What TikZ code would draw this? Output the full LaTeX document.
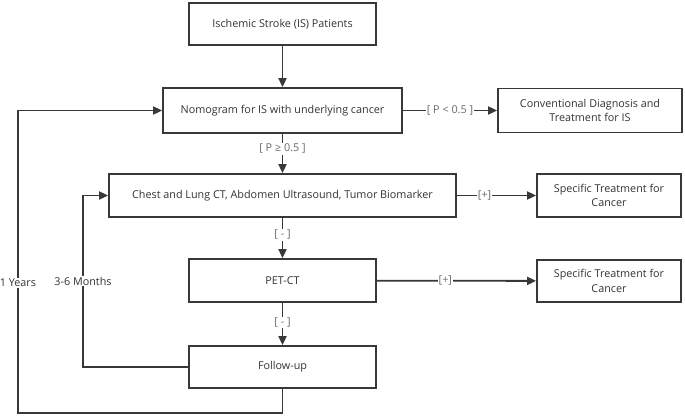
\documentclass[tikz,border=0pt]{standalone}
\usepackage{fontspec}
\setmainfont{Open Sans}
\usetikzlibrary{arrows.meta}
\definecolor{ln}{HTML}{383838}
\definecolor{tx}{HTML}{333333}
\definecolor{lb}{HTML}{6A6A6A}
\begin{document}
\begin{tikzpicture}[x=1pt,y=-1pt,
  box/.style={draw=ln,line width=1.8pt,text=tx,font=\fontsize{10.8}{14.5}\selectfont,align=center,inner sep=2pt},
  conn/.style={draw=ln,line width=1.8pt,-{Triangle[length=9pt,width=8pt]}},
  lbl/.style={fill=white,text=lb,font=\fontsize{10.8}{13}\selectfont,inner sep=1pt},
  side/.style={fill=white,text=tx,font=\fontsize{10.8}{13}\selectfont,inner sep=1pt}]
\useasboundingbox[fill=white] (0,0) rectangle (685,416);
\node[box,minimum width=187pt,minimum height=42pt] (ispat) at (282.5,24) {Ischemic Stroke (IS) Patients};
\node[box,minimum width=239pt,minimum height=45pt] (nomo) at (282.5,110.5) {Nomogram for IS with underlying cancer};
\node[box,minimum width=184pt,minimum height=44pt] (conv) at (590,110.5) {Conventional Diagnosis and\\Treatment for IS};
\node[box,minimum width=347pt,minimum height=43pt] (chest) at (282.5,195.5) {Chest and Lung CT, Abdomen Ultrasound, Tumor Biomarker};
\node[box,minimum width=144pt,minimum height=43pt] (spec1) at (609,195.5) {Specific Treatment for\\Cancer};
\node[box,minimum width=187pt,minimum height=43pt] (pet) at (282.5,280.5) {PET-CT};
\node[box,minimum width=144pt,minimum height=42pt] (spec2) at (609,281) {Specific Treatment for\\Cancer};
\node[box,minimum width=187pt,minimum height=42pt] (fol) at (282.5,367) {Follow-up};
\coordinate (c1) at (83,367);
\coordinate (c2) at (83,195.5);
\coordinate (d1) at (282.5,413);
\coordinate (d2) at (18,413);
\coordinate (d3) at (18,110.5);
\draw[conn] (ispat) -- (nomo);
\draw[conn] (nomo) -- node[lbl]{[ P < 0.5 ]} (conv);
\draw[conn] (nomo) -- node[lbl,pos=0.38]{[ P ≥ 0.5 ]} (chest);
\draw[conn] (chest) -- node[lbl,pos=0.35]{[+]} (spec1);
\draw[conn] (chest) -- node[lbl,pos=0.42]{[ - ]} (pet);
\draw[conn] (pet) -- node[lbl,pos=0.43]{[+]} (spec2);
\draw[conn] (pet) -- node[lbl,pos=0.47]{[ - ]} (fol);
\draw[conn] (fol.west) -- (c1) -- node[side,pos=0.5]{3-6 Months} (c2) -- (chest.west);
\draw[conn] (fol.south) -- (d1) -- (d2) -- node[side,pos=0.43]{1 Years} (d3) -- (nomo.west);
\end{tikzpicture}
\end{document}
